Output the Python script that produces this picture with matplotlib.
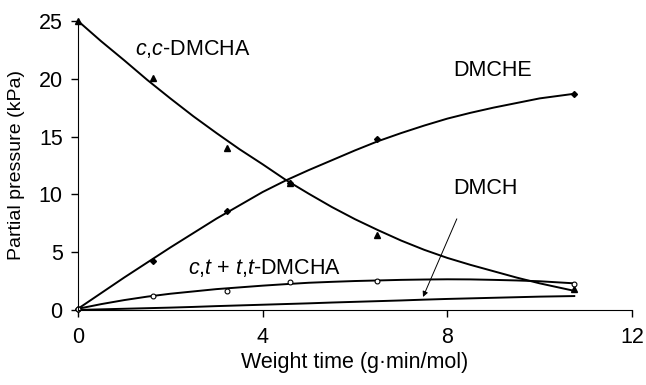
import numpy as np
import matplotlib.pyplot as plt

plt.rcParams['font.family'] = ['Liberation Sans', 'DejaVu Sans']
plt.rcParams['mathtext.fontset'] = 'custom'
plt.rcParams['mathtext.it'] = 'Liberation Sans:italic'
plt.rcParams['mathtext.rm'] = 'Liberation Sans'

# measured points (weight time, partial pressure)
t_meas = [0, 1.62, 3.23, 4.6, 6.47, 10.75]
ccdmcha_meas = [25.0, 20.1, 14.0, 11.0, 6.5, 1.8]
dmche_meas = [0.1, 4.2, 8.6, 11.0, 14.8, 18.7]
ctdmcha_meas = [0.1, 1.2, 1.6, 2.4, 2.5, 2.2]

# model curves
t_model = [0, 0.5, 1, 1.5, 2, 2.5, 3, 3.5, 4, 4.5, 5, 5.5, 6, 6.5, 7, 7.5, 8, 8.5, 9, 9.5, 10, 10.75]
ccdmcha_model = [25.0, 23.25, 21.6, 19.9, 18.3, 16.75, 15.3, 13.9, 12.6, 11.25, 10.05, 8.9, 7.85,
                 6.9, 6.0, 5.2, 4.5, 3.9, 3.35, 2.8, 2.3, 1.65]
dmche_model = [0.1, 1.45, 2.8, 4.1, 5.4, 6.65, 7.9, 9.05, 10.2, 11.2, 12.1, 12.95, 13.8, 14.6,
               15.3, 15.95, 16.55, 17.05, 17.5, 17.9, 18.3, 18.7]
ctdmcha_model = [0.1, 0.5, 0.85, 1.15, 1.4, 1.6, 1.8, 1.95, 2.1, 2.23, 2.35, 2.43, 2.5, 2.55,
                 2.6, 2.63, 2.65, 2.64, 2.6, 2.55, 2.48, 2.3]
dmch_model = [0.0, 0.05, 0.1, 0.15, 0.2, 0.26, 0.33, 0.39, 0.45, 0.51, 0.57, 0.64, 0.7, 0.76,
              0.82, 0.89, 0.95, 1.0, 1.05, 1.1, 1.15, 1.2]

fig = plt.figure(figsize=(6.46, 3.85), dpi=100)
ax = fig.add_axes([0.1207, 0.195, 0.8576, 0.7506])

lw = 1.4
ax.plot(t_model, ccdmcha_model, color='black', lw=lw)
ax.plot(t_model, dmche_model, color='black', lw=lw)
ax.plot(t_model, ctdmcha_model, color='black', lw=lw)
ax.plot(t_model, dmch_model, color='black', lw=lw)

ax.plot(t_meas, ccdmcha_meas, ls='none', marker='^', ms=4, color='black', clip_on=False)
ax.plot(t_meas, dmche_meas, ls='none', marker='D', ms=3, color='black', clip_on=False)
ax.plot(t_meas, ctdmcha_meas, ls='none', marker='o', ms=3.5, mfc='white', mec='black',
        mew=0.8, clip_on=False)

fs = 15.5
ax.text(1.23, 22.6, r'$\mathit{c{,}c}$-DMCHA', fontsize=fs, va='center', ha='left')
ax.text(8.12, 20.7, 'DMCHE', fontsize=fs, va='center', ha='left')
ax.text(8.12, 10.5, 'DMCH', fontsize=fs, va='center', ha='left')
ax.text(2.38, 3.6, r'$\mathit{c{,}t}$ + $\mathit{t{,}t}$-DMCHA', fontsize=fs, va='center', ha='left')
ax.annotate('', xy=(7.45, 0.9), xytext=(8.23, 8.1),
            arrowprops=dict(arrowstyle='-|>', lw=0.7, color='black', mutation_scale=8))

ax.set_xlim(0, 12)
ax.set_ylim(0, 25)
ax.set_xticks([0, 4, 8, 12])
ax.set_yticks([0, 5, 10, 15, 20, 25])
ax.tick_params(labelsize=fs, length=5, width=1, direction='out')
ax.tick_params(axis='x', pad=7)
ax.tick_params(axis='y', pad=6)
ax.spines['top'].set_visible(False)
ax.spines['right'].set_visible(False)
ax.set_xlabel('Weight time (g·min/mol)', fontsize=fs, labelpad=3)
ax.set_ylabel('Partial pressure (kPa)', fontsize=14)
ax.yaxis.set_label_coords(-0.096, 0.5)

fig.savefig('out.png', dpi=100)
